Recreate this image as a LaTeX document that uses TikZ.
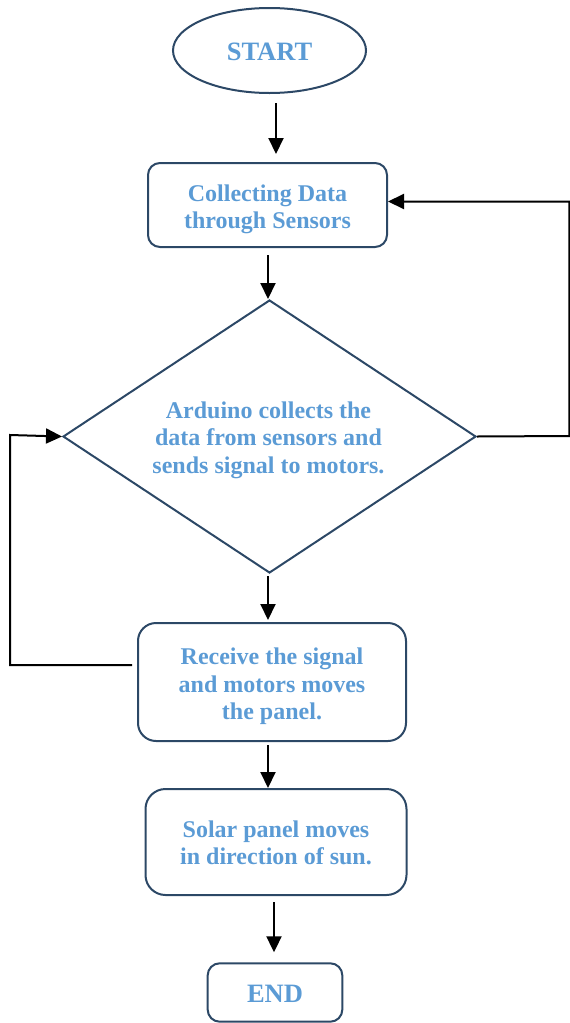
\documentclass[tikz,border=0pt]{standalone}
\usepackage{fontspec}
\setmainfont{Liberation Serif}
\usetikzlibrary{shapes.geometric,arrows.meta}
\definecolor{txtblue}{HTML}{5B9BD5}
\definecolor{edgeblue}{HTML}{2C4866}
\tikzset{
  box/.style={draw=edgeblue, line width=2pt, rectangle, inner sep=0pt},
  txt/.style={align=center, inner sep=0pt, text=txtblue, font=\fontsize{24}{27.5}\selectfont\bfseries},
  bigtxt/.style={inner sep=0pt, text=txtblue, font=\fontsize{26.5}{30}\selectfont\bfseries},
  arr/.style={draw=black, line width=2pt, -{Triangle[length=16pt,width=15pt]}},
}
\begin{document}
\begin{tikzpicture}[x=1pt,y=-1pt]
\useasboundingbox (0,0) rectangle (570,1023);
\node[draw=edgeblue, line width=2pt, ellipse, minimum width=193pt, minimum height=85pt, inner sep=0pt] (start) at (269.5,50.5) {};
\node[bigtxt] (startT) at ([yshift=-1pt]start.center) {START};
\node[box, rounded corners=12pt, minimum width=239pt, minimum height=84pt] (collect) at (267.5,205) {};
\node[txt] (collectT) at ([yshift=-4.5pt]collect.center) {Collecting Data\\through Sensors};
\node[box, diamond, aspect=1.513, minimum width=413pt, minimum height=273pt] (ard) at (269.5,436.5) {};
\node[txt] (ardT) at ([xshift=-1pt,yshift=-3.5pt]ard.center) {Arduino collects the\\data from sensors and\\sends signal to motors.};
\node[box, rounded corners=18pt, minimum width=268pt, minimum height=118pt] (receive) at (272,682) {};
\node[txt] (receiveT) at ([yshift=-4.5pt]receive.center) {Receive the signal\\and motors moves\\the panel.};
\node[box, rounded corners=20pt, minimum width=261pt, minimum height=106pt] (solar) at (276,842) {};
\node[txt] (solarT) at ([yshift=-1pt]solar.center) {Solar panel moves\\in direction of sun.};
\node[box, rounded corners=12pt, minimum width=134.6pt, minimum height=58.4pt] (end) at (275,992.5) {};
\node[bigtxt] (endT) at ([yshift=-1.5pt]end.center) {END};

\coordinate (rtop) at (569.3,201.5);
\coordinate (rbot) at (569.3,436);
\coordinate (ltop) at (10,435);
\coordinate (lbot) at (10,665);

\draw[arr] ([xshift=6.5pt,yshift=-9pt]start.south) -- ([xshift=8.5pt,yshift=8pt]collect.north);
\draw[arr] ([xshift=0.5pt,yshift=-7pt]collect.south) -- ([xshift=-1.5pt]ard.north);
\draw[arr] ([xshift=-1.5pt,yshift=-2pt]ard.south) -- ([xshift=-4pt,yshift=2pt]receive.north);
\draw[arr] ([xshift=-4pt,yshift=-3pt]receive.south) -- ([xshift=-8pt]solar.north);
\draw[arr] ([xshift=-2pt,yshift=-6pt]solar.south) -- ([xshift=-1pt,yshift=10pt]end.north);

\draw[arr] (ard.east) -- (rbot) -- (rtop) -- (collect.east |- rtop);
\draw[arr] ([xshift=-5pt]receive.west |- lbot) -- (lbot) -- (ltop) -- (ard.west);
\end{tikzpicture}
\end{document}
